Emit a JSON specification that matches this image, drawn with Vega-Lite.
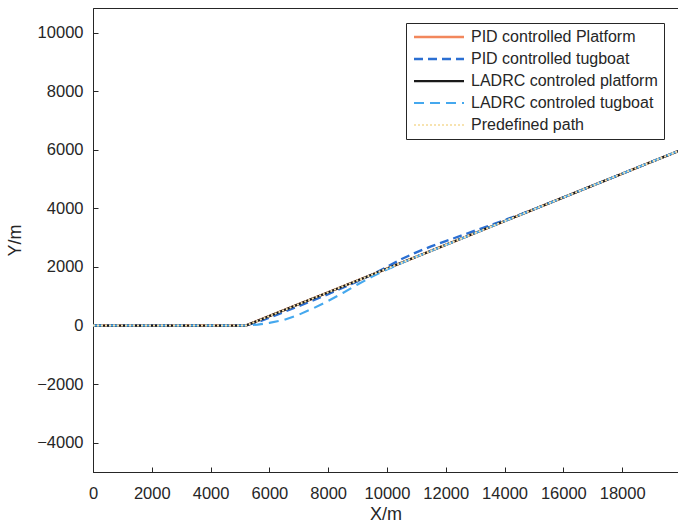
{
 "$schema": "https://vega.github.io/schema/vega-lite/v6.json",
 "width": 585, "height": 464, "autosize": "none",
 "padding": {"left": 93, "top": 8, "right": 0, "bottom": 54},
 "background": "white",
 "config": {
  "font": "Liberation Sans",
  "view": {"stroke": "#262626", "strokeWidth": 1},
  "axis": {"grid": false, "domainColor": "#262626", "tickColor": "#262626", "labelColor": "#262626", "titleColor": "#262626", "labelFontSize": 16.5, "titleFontSize": 18, "titleFontWeight": "normal", "tickSize": -5, "labelFont": "Liberation Sans", "titleFont": "Liberation Sans", "labelFlush": false}
 },
 "data": {"values": [
  {"s": "PID controlled Platform", "x": 0, "y": 0},
  {"s": "PID controlled Platform", "x": 5200, "y": 0},
  {"s": "PID controlled Platform", "x": 19900, "y": 5953},
  {"s": "PID controlled tugboat", "x": 0, "y": 0},
  {"s": "PID controlled tugboat", "x": 5200, "y": 0},
  {"s": "PID controlled tugboat", "x": 5600, "y": 120},
  {"s": "PID controlled tugboat", "x": 6000, "y": 270},
  {"s": "PID controlled tugboat", "x": 7000, "y": 660},
  {"s": "PID controlled tugboat", "x": 8000, "y": 1070},
  {"s": "PID controlled tugboat", "x": 9000, "y": 1510},
  {"s": "PID controlled tugboat", "x": 9500, "y": 1740},
  {"s": "PID controlled tugboat", "x": 10000, "y": 2000},
  {"s": "PID controlled tugboat", "x": 10500, "y": 2270},
  {"s": "PID controlled tugboat", "x": 11000, "y": 2500},
  {"s": "PID controlled tugboat", "x": 11500, "y": 2700},
  {"s": "PID controlled tugboat", "x": 12000, "y": 2880},
  {"s": "PID controlled tugboat", "x": 12500, "y": 3060},
  {"s": "PID controlled tugboat", "x": 13000, "y": 3240},
  {"s": "PID controlled tugboat", "x": 13500, "y": 3420},
  {"s": "PID controlled tugboat", "x": 14000, "y": 3600},
  {"s": "PID controlled tugboat", "x": 14500, "y": 3780},
  {"s": "PID controlled tugboat", "x": 15000, "y": 3970},
  {"s": "PID controlled tugboat", "x": 19900, "y": 5953},
  {"s": "LADRC controled platform", "x": 0, "y": 0},
  {"s": "LADRC controled platform", "x": 5200, "y": 0},
  {"s": "LADRC controled platform", "x": 19900, "y": 5953},
  {"s": "LADRC controled tugboat", "x": 0, "y": 0},
  {"s": "LADRC controled tugboat", "x": 5200, "y": 0},
  {"s": "LADRC controled tugboat", "x": 5600, "y": 30},
  {"s": "LADRC controled tugboat", "x": 6000, "y": 90},
  {"s": "LADRC controled tugboat", "x": 6500, "y": 190},
  {"s": "LADRC controled tugboat", "x": 7000, "y": 370},
  {"s": "LADRC controled tugboat", "x": 7500, "y": 590},
  {"s": "LADRC controled tugboat", "x": 8000, "y": 840},
  {"s": "LADRC controled tugboat", "x": 8500, "y": 1110},
  {"s": "LADRC controled tugboat", "x": 9000, "y": 1400},
  {"s": "LADRC controled tugboat", "x": 9500, "y": 1670},
  {"s": "LADRC controled tugboat", "x": 10000, "y": 1910},
  {"s": "LADRC controled tugboat", "x": 10500, "y": 2135},
  {"s": "LADRC controled tugboat", "x": 11000, "y": 2345},
  {"s": "LADRC controled tugboat", "x": 19900, "y": 5953},
  {"s": "Predefined path", "x": 0, "y": 0},
  {"s": "Predefined path", "x": 5200, "y": 0},
  {"s": "Predefined path", "x": 19900, "y": 5953}
 ]},
 "mark": {"type": "line", "clip": true},
 "encoding": {
  "x": {"field": "x", "type": "quantitative", "scale": {"domain": [0, 19900], "nice": false, "zero": false},
        "axis": {"values": [0, 2000, 4000, 6000, 8000, 10000, 12000, 14000, 16000, 18000], "title": "X/m", "labelPadding": 18, "titlePadding": 4, "format": "d"}},
  "y": {"field": "y", "type": "quantitative", "scale": {"domain": [-5000, 10840], "nice": false, "zero": false},
        "axis": {"values": [-4000, -2000, 0, 2000, 4000, 6000, 8000, 10000], "title": "Y/m", "labelPadding": 15, "titlePadding": 12, "format": "d"}},
  "color": {"field": "s", "type": "nominal",
    "scale": {"domain": ["PID controlled Platform", "PID controlled tugboat", "LADRC controled platform", "LADRC controled tugboat", "Predefined path"],
              "range": ["#F2875C", "#2B6FD2", "#1a1a1a", "#45A8EE", "#F7E3B0"]},
    "legend": {"orient": "none", "legendX": 313, "legendY": 15, "title": null, "strokeColor": "#262626", "fillColor": "white",
               "padding": 6, "labelFontSize": 16, "labelColor": "#262626", "labelFont": "Liberation Sans", "labelLimit": 400,
               "symbolType": "M-5,0H5", "symbolSize": 100, "symbolOffset": 19, "labelOffset": 24, "rowPadding": 6, "offset": 0}},
  "strokeDash": {"field": "s", "type": "nominal",
    "scale": {"domain": ["PID controlled Platform", "PID controlled tugboat", "LADRC controled platform", "LADRC controled tugboat", "Predefined path"],
              "range": [[1, 0], [9, 5], [1, 0], [10, 6], [2, 2]]}},
  "strokeWidth": {"field": "s", "type": "nominal",
    "scale": {"domain": ["PID controlled Platform", "PID controlled tugboat", "LADRC controled platform", "LADRC controled tugboat", "Predefined path"],
              "range": [2.5, 2, 1.2, 1, 1.5]}}
 }
}
